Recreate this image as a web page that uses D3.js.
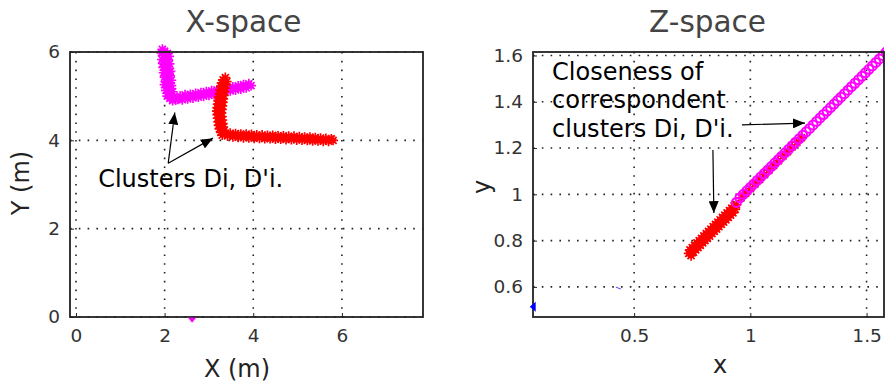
<!DOCTYPE html>
<html>
<head>
<meta charset="utf-8">
<script src="https://cdn.jsdelivr.net/npm/d3@7"></script>
<style>
  body { margin: 0; background: #fff; }
  svg { display: block; font-family: "DejaVu Sans", sans-serif; }
</style>
</head>
<body>
<svg id="chart" width="885" height="383"></svg>
<script>
// ---- data ----
const xSpaceMagenta = [
  [1.95,6.06],[2.0,6.02],[1.93,5.98],[2.06,5.97],[1.98,5.93],[2.1,5.9],[2.0,5.87],[1.94,5.83],
  [2.07,5.82],[2.02,5.78],[1.96,5.74],[2.11,5.73],[2.03,5.69],[1.97,5.65],[2.09,5.63],[2.01,5.59],
  [2.13,5.56],[1.98,5.53],[2.06,5.5],[2.12,5.46],[2.0,5.43],[2.08,5.4],[2.15,5.36],[2.02,5.33],
  [2.1,5.3],[2.0,5.26],[2.15,5.24],[2.06,5.2],[2.13,5.16],[2.03,5.13],[2.18,5.1],[2.09,5.07],
  [2.15,5.03],[2.06,5.0],[2.2,4.98],[2.12,4.95],[2.25,4.92],[2.18,4.9],[2.3,4.93],
  [2.35,5.0],[2.4,4.92],[2.46,5.03],[2.52,4.94],[2.58,5.04],[2.64,4.96],[2.7,5.06],[2.76,4.98],
  [2.82,5.08],[2.88,5.0],[2.94,5.1],[3.0,5.02],[3.06,5.12],[3.12,5.04],[3.18,5.14],[3.24,5.06],
  [3.3,5.16],[3.36,5.09],[3.42,5.19],[3.48,5.12],[3.54,5.21],[3.6,5.14],[3.66,5.23],[3.72,5.16],
  [3.78,5.26],[3.84,5.19],[3.9,5.28],[3.95,5.24]
];
const xSpaceMagentaStray = [[2.62,-0.06]];
const xSpaceRed = [
  [3.37,5.42],[3.32,5.37],[3.4,5.33],[3.29,5.3],[3.37,5.26],[3.27,5.22],[3.36,5.18],[3.25,5.14],
  [3.35,5.1],[3.24,5.06],[3.33,5.02],[3.22,4.98],[3.32,4.94],[3.21,4.9],[3.31,4.86],[3.2,4.82],
  [3.3,4.78],[3.19,4.74],[3.29,4.7],[3.18,4.66],[3.28,4.62],[3.19,4.58],[3.29,4.54],[3.2,4.5],
  [3.3,4.46],[3.21,4.42],[3.31,4.38],[3.22,4.34],[3.32,4.3],[3.24,4.26],[3.34,4.22],[3.27,4.18],
  [3.37,4.16],[3.3,4.12],[3.42,4.1],
  [3.48,4.16],[3.54,4.08],[3.6,4.15],[3.66,4.07],[3.72,4.14],[3.78,4.06],[3.84,4.14],[3.9,4.06],
  [3.96,4.13],[4.02,4.05],[4.08,4.12],[4.14,4.05],[4.2,4.12],[4.26,4.04],[4.32,4.11],[4.38,4.04],
  [4.44,4.11],[4.5,4.03],[4.56,4.1],[4.62,4.03],[4.68,4.1],[4.74,4.02],[4.8,4.09],[4.86,4.02],
  [4.92,4.09],[4.98,4.01],[5.04,4.08],[5.1,4.01],[5.16,4.07],[5.22,4.0],[5.28,4.07],[5.34,3.99],
  [5.4,4.06],[5.46,3.99],[5.52,4.05],[5.58,3.98],[5.64,4.04],[5.7,3.98],[5.76,4.03],[5.8,4.0]
];
const zSpaceRed = [
  [0.735,0.745],[0.74,0.76],[0.745,0.735],[0.75,0.77],[0.755,0.75],[0.76,0.78],[0.765,0.76],
  [0.77,0.79],[0.775,0.77],[0.78,0.8],[0.785,0.78],[0.79,0.81],[0.795,0.79],[0.8,0.82],
  [0.805,0.8],[0.81,0.83],[0.815,0.81],[0.82,0.84],[0.825,0.82],[0.83,0.85],[0.835,0.83],
  [0.84,0.86],[0.845,0.84],[0.85,0.87],[0.855,0.85],[0.86,0.88],[0.865,0.86],[0.87,0.89],
  [0.875,0.87],[0.88,0.9],[0.885,0.88],[0.89,0.91],[0.895,0.89],[0.9,0.92],[0.905,0.9],
  [0.91,0.93],[0.915,0.91],[0.92,0.94],[0.925,0.92],[0.93,0.95],[0.935,0.935],[0.94,0.955],
  [0.96,0.985],[0.98,1.005],[1.0,1.025],[1.02,1.045],[1.04,1.065],[1.06,1.085],[1.08,1.105],
  [1.1,1.125],[1.12,1.145],[1.14,1.165],[1.16,1.185],[1.18,1.205],[1.2,1.225],[1.22,1.245]
];
const zSpaceMagenta = [
  [0.94,0.965],[0.955,0.985],[0.97,1.0],[0.985,1.015],[1.0,1.03],[1.015,1.045],[1.03,1.06],
  [1.045,1.075],[1.06,1.09],[1.075,1.105],[1.09,1.12],[1.105,1.135],[1.12,1.15],[1.135,1.165],
  [1.15,1.18],[1.165,1.195],[1.18,1.21],[1.195,1.225],[1.21,1.24],[1.225,1.255],[1.24,1.27],
  [1.255,1.285],[1.27,1.3],[1.285,1.315],[1.3,1.33],[1.315,1.345],[1.33,1.36],[1.345,1.375],
  [1.36,1.39],[1.375,1.405],[1.39,1.42],[1.405,1.435],[1.42,1.45],[1.435,1.465],[1.45,1.48],
  [1.465,1.495],[1.48,1.51],[1.495,1.525],[1.51,1.54],[1.525,1.555],[1.54,1.57],[1.555,1.585],
  [1.57,1.6],[1.585,1.615]
];
const zSpaceBlue = [[0.068,0.514]];
const zSpaceBlueDash = [[0.43,0.595]];

const xSpaceXTicks = [0, 2, 4, 6];
const xSpaceYTicks = [0, 2, 4, 6];
const zSpaceXTicks = [0.5, 1, 1.5];
const zSpaceYTicks = [0.6, 0.8, 1, 1.2, 1.4, 1.6];

const svg = d3.select('#chart');

// arrow head marker
svg.append('defs').append('marker')
  .attr('id', 'head')
  .attr('markerUnits', 'userSpaceOnUse')
  .attr('viewBox', '0 0 12 10')
  .attr('refX', 12).attr('refY', 5)
  .attr('markerWidth', 12).attr('markerHeight', 10)
  .attr('orient', 'auto')
  .append('path').attr('d', 'M0,0L12,5L0,10Z').attr('fill', '#000');

function asterisk(r) {
  const d = r * 0.707;
  return `M${-r},0L${r},0M0,${-r}L0,${r}M${-d},${-d}L${d},${d}M${-d},${d}L${d},${-d}`;
}

function panel(opt) {
  const x = d3.scaleLinear().domain(opt.xDomain).range([opt.left, opt.right]);
  const y = d3.scaleLinear().domain(opt.yDomain).range([opt.bottom, opt.top]);
  const g = svg.append('g');

  // dotted grid
  g.selectAll('.gx').data(opt.xTicks).enter().append('line')
    .attr('x1', d => x(d)).attr('x2', d => x(d))
    .attr('y1', opt.top).attr('y2', opt.bottom)
    .attr('stroke', '#222').attr('stroke-width', 1.6).attr('stroke-dasharray', '1.6,7.2');
  g.selectAll('.gy').data(opt.yTicks).enter().append('line')
    .attr('y1', d => y(d)).attr('y2', d => y(d))
    .attr('x1', opt.left).attr('x2', opt.right)
    .attr('stroke', '#222').attr('stroke-width', 1.6).attr('stroke-dasharray', '1.6,7.2');

  // axes (ticks inward, labels outside)
  const ax = g.append('g').attr('transform', `translate(0,${opt.bottom})`)
    .call(d3.axisBottom(x).tickValues(opt.xTicks).tickSize(-4).tickPadding(12).tickFormat(d3.format('')));
  const ay = g.append('g').attr('transform', `translate(${opt.left},0)`)
    .call(d3.axisLeft(y).tickValues(opt.yTicks).tickSize(-4).tickPadding(10).tickFormat(d3.format('')));
  [ax, ay].forEach(a => {
    a.select('.domain').remove();
    a.selectAll('text').attr('font-size', 18.5).attr('fill', '#333')
      .attr('font-family', '"DejaVu Sans", sans-serif');
    a.selectAll('line').attr('stroke', '#222');
  });

  const clipId = 'clip' + opt.id;
  svg.append('clipPath').attr('id', clipId).append('rect')
    .attr('x', opt.left).attr('y', opt.top - 10)
    .attr('width', opt.right - opt.left).attr('height', opt.bottom - opt.top + 10);

  const plot = g.append('g').attr('clip-path', `url(#${clipId})`);
  g.append('rect')
    .attr('x', opt.left).attr('y', opt.top)
    .attr('width', opt.right - opt.left).attr('height', opt.bottom - opt.top)
    .attr('fill', 'none').attr('stroke', '#222').attr('stroke-width', 1.8);

  g.append('text').attr('x', (opt.left + opt.right) / 2 + opt.titleDx).attr('y', 32)
    .attr('text-anchor', 'middle').attr('font-size', 29.5).attr('fill', '#444').text(opt.title);
  g.append('text').attr('x', opt.xLabelX).attr('y', opt.xLabelY)
    .attr('text-anchor', 'middle').attr('font-size', 24).attr('fill', '#222').text(opt.xLabel);
  g.append('text').attr('transform', `translate(${opt.yLabelX},${opt.yLabelY}) rotate(-90)`)
    .attr('text-anchor', 'middle').attr('font-size', 24).attr('fill', '#222').text(opt.yLabel);

  return { x, y, g, plot };
}

function stars(p, data, color, r) {
  p.plot.append('g').selectAll('path').data(data).enter().append('path')
    .attr('transform', d => `translate(${p.x(d[0])},${p.y(d[1])})`)
    .attr('d', asterisk(r))
    .attr('fill', 'none').attr('stroke', color).attr('stroke-width', 1.7);
}

function arrow(p, from, to) {
  p.g.append('line')
    .attr('x1', p.x(from[0])).attr('y1', p.y(from[1]))
    .attr('x2', p.x(to[0])).attr('y2', p.y(to[1]))
    .attr('stroke', '#000').attr('stroke-width', 1.2).attr('marker-end', 'url(#head)');
}

// ---- X-space ----
const left = panel({
  id: 'L', xDomain: [-0.135, 7.83], yDomain: [0, 6],
  left: 70, right: 423, top: 52, bottom: 317,
  xTicks: xSpaceXTicks, yTicks: xSpaceYTicks,
  title: 'X-space', titleDx: -3, xLabel: 'X (m)', xLabelX: 237, xLabelY: 377,
  yLabel: 'Y (m)', yLabelX: 29, yLabelY: 183
});
stars(left, xSpaceMagenta, '#ff00ff', 5);
stars(left, xSpaceRed, '#ff0000', 5);
left.g.selectAll('.stray').data(xSpaceMagentaStray).enter().append('path')
  .attr('transform', d => `translate(${left.x(d[0])},${left.y(d[1])})`)
  .attr('d', 'M-4,-2L4,-2L0,3Z').attr('fill', '#ff00ff');

left.g.append('text').attr('x', left.x(0.5)).attr('y', left.y(2.94))
  .attr('font-size', 24).attr('fill', '#000').text("Clusters Di, D'i.");
arrow(left, [2.08, 3.48], [2.23, 4.63]);
arrow(left, [2.08, 3.48], [3.09, 4.05]);

// ---- Z-space ----
const right = panel({
  id: 'R', xDomain: [0.065, 1.575], yDomain: [0.47, 1.615],
  left: 533, right: 884, top: 52, bottom: 317,
  xTicks: zSpaceXTicks, yTicks: zSpaceYTicks,
  title: 'Z-space', titleDx: -1, xLabel: 'x', xLabelX: 720, xLabelY: 373,
  yLabel: 'y', yLabelX: 490, yLabelY: 187
});
stars(right, zSpaceRed, '#ff0000', 5);
right.plot.append('g').selectAll('circle').data(zSpaceMagenta).enter().append('circle')
  .attr('cx', d => right.x(d[0])).attr('cy', d => right.y(d[1])).attr('r', 4.5)
  .attr('fill', 'none').attr('stroke', '#ff00ff').attr('stroke-width', 2);
right.g.selectAll('.blue').data(zSpaceBlue).enter().append('path')
  .attr('transform', d => `translate(${right.x(d[0])},${right.y(d[1])})`)
  .attr('d', 'M-4,0L2,-5L2,5Z').attr('fill', '#0000ff');
right.plot.selectAll('.bdash').data(zSpaceBlueDash).enter().append('line')
  .attr('x1', d => right.x(d[0]) - 2).attr('x2', d => right.x(d[0]) + 3)
  .attr('y1', d => right.y(d[1]) - 1).attr('y2', d => right.y(d[1]) + 1)
  .attr('stroke', '#4444ff').attr('stroke-width', 1);

const note = ['Closeness of', 'correspondent', "clusters Di, D'i."];
const noteY = [1.494, 1.372, 1.248];
right.g.selectAll('.note').data(note).enter().append('text')
  .attr('x', right.x(0.147)).attr('y', (d, i) => right.y(noteY[i]))
  .attr('font-size', 24).attr('fill', '#000').text(d => d);
arrow(right, [0.964, 1.30], [1.235, 1.308]);
arrow(right, [0.839, 1.192], [0.843, 0.919]);
</script>
</body>
</html>
